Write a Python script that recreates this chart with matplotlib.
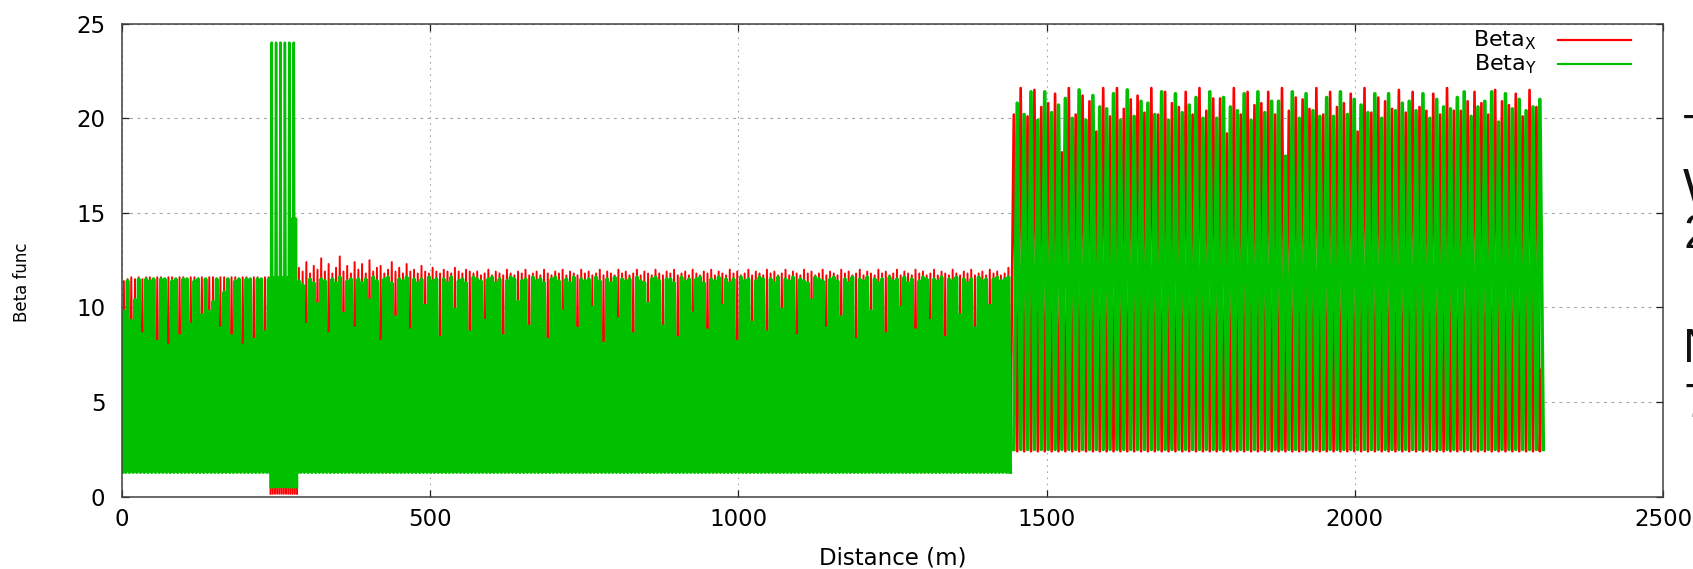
"""Beta functions along the beamline (horizontal and vertical planes)."""
import matplotlib
matplotlib.use("Agg")
import matplotlib.pyplot as plt
from matplotlib.lines import Line2D

RED = "#ff0000"
GREEN = "#00c000"

# Section boundaries along the line (m)
SEC_A = (0.0, 241.0)       # first straight, FODO
SEC_INJ = (241.0, 284.0)   # injection insert
SEC_B = (284.0, 1441.0)    # long straight, FODO
SEC_ARC = (1444.0, 2303.0)  # arc cells

# Peak beta per cell (m)
A_BY = [9.8, 11.4, 9.3, 10.4, 11.5, 8.6, 11.5, 11.4, 11.5, 8.2,
        11.5, 11.5, 8.0, 11.4, 11.5, 8.5, 11.5, 11.5, 9.1, 11.4,
        11.5, 9.6, 11.5, 9.8, 10.3, 11.5, 8.9, 10.8, 11.5, 8.5,
        11.4, 11.5, 8.0, 11.5, 11.5, 8.3, 11.5, 11.5, 8.7, 11.5]
A_BX = [11.4, 11.5, 11.6, 11.5, 11.6, 11.5, 11.6, 11.6, 11.5, 11.6,
        11.6, 11.5, 11.6, 11.6, 11.5, 11.6, 11.6, 11.5, 11.6, 11.6,
        11.5, 11.6, 11.5, 11.6, 11.6, 11.5, 11.6, 11.6, 11.5, 11.6,
        11.6, 11.5, 11.6, 11.6, 11.5, 11.6, 11.6, 11.5, 11.6, 11.6]

INJ_BY = [24.0, 11.6, 24.0, 11.6, 24.0, 11.6, 24.0, 11.6, 24.0, 14.7, 24.0, 14.7]
INJ_BX = [11.2, 11.0, 11.3, 11.1, 11.2, 11.0, 11.3, 11.1, 11.2, 11.0, 11.3, 11.1]

B_BY = [
    11.4, 11.2, 9.1, 11.5, 11.3, 10.2, 11.5, 11.4, 8.6, 11.5, 11.3, 11.6, 9.7, 11.4, 11.5, 8.9,
    11.5, 11.3, 11.5, 10.4, 11.6, 11.4, 8.2, 11.5, 11.6, 11.3, 9.5, 11.5, 11.4, 11.6, 8.8, 11.5,
    11.3, 11.5, 10.1, 11.6, 11.4, 11.5, 8.4, 11.5, 11.3, 11.6, 9.9, 11.4, 11.5, 11.3, 8.7, 11.6,
    11.5, 11.4, 9.3, 11.5, 11.6, 11.3, 11.5, 8.5, 11.4, 11.6, 11.5, 10.3, 11.4, 11.5, 9.0, 11.6,
    11.4, 11.5, 11.3, 8.3, 11.5, 11.6, 11.4, 9.8, 11.5, 11.3, 11.6, 8.9, 11.5, 11.4, 11.5, 10.0,
    11.6, 11.4, 8.1, 11.5, 11.3, 11.6, 9.4, 11.5, 11.4, 11.5, 8.6, 11.6, 11.4, 11.3, 10.2, 11.5,
    11.6, 11.4, 9.0, 11.5, 11.5, 11.3, 8.4, 11.6, 11.4, 11.5, 9.7, 11.5, 11.6, 11.3, 8.8, 11.5,
    11.4, 11.6, 10.1, 11.5, 11.3, 11.5, 8.2, 11.6, 11.4, 11.5, 9.2, 11.4, 11.6, 11.5, 8.7, 11.5,
    11.3, 11.6, 9.9, 11.5, 11.4, 11.6, 8.5, 11.5, 11.4, 11.3, 10.4, 11.6, 11.5, 11.4, 8.9, 11.5,
    11.6, 11.4, 9.5, 11.5, 11.3, 11.6, 8.3, 11.5, 11.4, 11.6, 9.8, 11.5, 11.3, 11.5, 8.6, 11.6,
    11.4, 11.5, 10.0, 11.6, 11.3, 11.5, 8.8, 11.4, 11.6, 11.5, 9.3, 11.5, 11.4, 11.6, 8.4, 11.5,
    11.4, 11.6, 9.6, 11.5, 11.3, 11.5, 8.9, 11.6, 11.4, 11.5, 10.1, 11.5, 11.6, 11.4, 11.5, 11.6,
]
B_BX = [
    12.1, 11.9, 12.4, 11.8, 12.2, 12.0, 12.6, 11.9, 12.3, 11.8, 12.1, 12.7, 11.9, 12.2, 11.8, 12.4,
    12.0, 12.3, 11.8, 12.5, 11.9, 12.1, 12.2, 11.8, 12.0, 12.4, 11.9, 12.1, 11.8, 12.3, 11.9, 12.0,
    11.8, 12.2, 11.9, 11.8, 12.1, 11.9, 11.8, 12.0, 11.9, 11.8, 12.1, 11.9, 11.8, 12.0, 11.9, 11.8,
    11.9, 11.7, 11.8, 12.0, 11.7, 11.9, 11.8, 11.7, 12.0, 11.8, 11.7, 11.9, 11.8, 12.0, 11.7, 11.8,
    11.9, 11.7, 12.0, 11.8, 11.7, 11.9, 11.8, 12.0, 11.7, 11.9, 11.8, 11.7, 12.0, 11.8, 11.9, 11.7,
    11.8, 12.0, 11.7, 11.9, 11.8, 11.7, 12.0, 11.8, 11.9, 11.7, 11.8, 12.0, 11.7, 11.9, 11.8, 11.7,
    12.0, 11.8, 11.7, 11.9, 11.8, 12.0, 11.7, 11.8, 11.9, 11.7, 12.0, 11.8, 11.7, 11.9, 11.8, 12.0,
    11.7, 11.9, 11.8, 11.7, 12.0, 11.8, 11.9, 11.7, 11.8, 12.0, 11.7, 11.9, 11.8, 11.7, 12.0, 11.8,
    11.9, 11.7, 11.8, 12.0, 11.7, 11.9, 11.8, 11.7, 12.0, 11.8, 11.9, 11.7, 11.8, 12.0, 11.7, 11.9,
    11.8, 11.7, 12.0, 11.8, 11.9, 11.7, 11.8, 12.0, 11.7, 11.9, 11.8, 11.7, 12.0, 11.8, 11.9, 11.7,
    11.8, 12.0, 11.7, 11.9, 11.8, 11.7, 12.0, 11.8, 11.9, 11.7, 11.8, 12.0, 11.7, 11.9, 11.8, 11.7,
    12.0, 11.8, 11.7, 11.9, 11.8, 12.0, 11.7, 11.8, 11.9, 11.7, 12.0, 11.8, 11.9, 11.7, 11.8, 12.1,
]

ARC_BX = [
    20.2, 21.6, 20.1, 21.5, 20.6, 20.8, 21.3, 18.2, 21.6, 20.2, 21.2, 20.9,
    19.3, 21.6, 20.1, 21.6, 20.5, 21.0, 21.2, 20.3, 21.6, 20.2, 21.4, 20.8,
    20.6, 21.4, 20.2, 21.6, 20.4, 21.05, 21.05, 19.2, 21.6, 20.2, 21.4, 20.7,
    20.8, 21.4, 20.2, 21.6, 20.4, 21.1, 21.0, 20.5, 21.6, 20.2, 21.4, 20.6,
    20.8, 21.3, 19.3, 21.6, 20.3, 21.1, 20.9, 20.5, 21.5, 20.3, 21.4, 20.6,
    20.4, 21.3, 20.2, 21.6, 20.4, 20.4, 20.9, 21.4, 20.8, 20.2, 21.5, 20.9,
    20.7, 21.3, 20.1, 21.5, 20.6,
]
ARC_BY = [
    20.8, 20.2, 21.4, 19.9, 21.4, 20.3, 20.7, 21.05, 20.0, 21.5, 19.9, 21.2,
    20.6, 20.5, 21.3, 19.9, 21.5, 20.1, 20.9, 20.8, 20.2, 21.4, 19.9, 21.3,
    20.3, 20.7, 21.1, 20.0, 21.4, 20.0, 21.1, 20.6, 20.4, 21.3, 19.9, 21.4,
    20.3, 20.9, 20.9, 18.0, 21.4, 20.0, 21.3, 20.4, 20.1, 21.1, 20.1, 21.4,
    20.2, 21.0, 20.7, 20.3, 21.3, 20.0, 21.3, 20.4, 20.8, 20.9, 20.4, 21.3,
    20.0, 21.0, 20.6, 20.5, 21.1, 21.4, 20.1, 20.6, 20.9, 21.4, 19.8, 21.3,
    20.5, 21.0, 20.4, 20.6, 21.0,
]
ARC_BX_END = 6.7  # horizontal beta at the end of the line

# Minimum beta per section (m)
LOW_MIN_X, LOW_MIN_Y = 1.3, 1.3
INJ_MIN_X, INJ_MIN_Y = 0.15, 0.5
ARC_MIN_X, ARC_MIN_Y = 2.4, 2.5

X_TICKS = [0, 500, 1000, 1500, 2000, 2500]
Y_TICKS = [0, 5, 10, 15, 20, 25]


def zigzag(sec, peaks, trough, offset=0.0):
    """Beta along a section: one minimum/maximum pair per cell."""
    s0, s1 = sec
    period = (s1 - s0) / len(peaks)
    s, b = [s0 + offset], [trough]
    for k, pk in enumerate(peaks):
        s += [s0 + offset + (k + 0.5) * period, s0 + offset + (k + 1) * period]
        b += [pk, trough]
    return s, b


fig = plt.figure(figsize=(16.93, 5.69), dpi=100)
ax = fig.add_axes([0.07206, 0.1271, 0.91022, 0.8312])

# horizontal plane first, vertical drawn over it
s, b = zigzag(SEC_A, A_BX, LOW_MIN_X)
ax.plot(s, b, color=RED, lw=1.4)
s, b = zigzag(SEC_INJ, INJ_BX, INJ_MIN_X)
ax.plot(s, b, color=RED, lw=1.4)
s, b = zigzag(SEC_B, B_BX, LOW_MIN_X)
ax.plot(s, b, color=RED, lw=1.4)
p_arc = (SEC_ARC[1] - SEC_ARC[0]) / len(ARC_BX)
s, b = zigzag(SEC_ARC, ARC_BX, ARC_MIN_X, offset=-p_arc / 4)
s.append(SEC_ARC[1])
b.append(ARC_BX_END)
ax.plot(s, b, color=RED, lw=1.9)

s, b = zigzag(SEC_A, A_BY, LOW_MIN_Y)
ax.plot(s, b, color=GREEN, lw=2.7)
s, b = zigzag(SEC_INJ, INJ_BY, INJ_MIN_Y)
ax.plot(s, b, color=GREEN, lw=1.8)
s, b = zigzag(SEC_B, B_BY, LOW_MIN_Y)
ax.plot(s, b, color=GREEN, lw=2.7)
s, b = zigzag(SEC_ARC, ARC_BY, ARC_MIN_Y, offset=p_arc / 4)
ax.plot(s, b, color=GREEN, lw=2.6)

ax.set_xlim(0, 2500)
ax.set_ylim(0, 25)
ax.set_xticks(X_TICKS)
ax.set_yticks(Y_TICKS)
ax.set_axisbelow(True)
ax.xaxis.grid(True, color="#a8a8a8", lw=0.8, linestyle=(0, (1.5, 4)))
ax.yaxis.grid(True, color="#a8a8a8", lw=0.8, linestyle=(0, (2.7, 4)))
for sp in ax.spines.values():
    sp.set_color("#404040")
    sp.set_linewidth(1.1)
ax.tick_params(direction="in", length=5, width=0.9, color="#202020",
               top=True, right=True, labelsize=16.5, pad=8)
ax.tick_params(axis="y", pad=12)

ax.set_xlabel("Distance (m)", fontsize=16.5)
ax.set_ylabel("Beta func", fontsize=12)
ax.xaxis.set_label_coords(0.5, -0.13)
ax.xaxis.label.set_va("center")
ax.yaxis.set_label_coords(-0.065, 0.454)
ax.yaxis.label.set_va("center")

# key, top right
W, H = 1693.0, 569.0
for i, (lab, col) in enumerate([(r"Beta$_{\mathrm{X}}$", RED), (r"Beta$_{\mathrm{Y}}$", GREEN)]):
    y = 1 - (40 + 24 * i) / H
    fig.text(1537 / W, y, lab, ha="right", va="center", fontsize=16)
    fig.add_artist(Line2D([1558 / W, 1631 / W], [y, y], color=col, lw=1.6))

# slide text running off the right edge
for ch, base in [("T", 148), ("W", 202), ("2", 248), ("N", 362), ("7", 417)]:
    fig.text(1683 / W, 1 - base / H, ch, ha="left", va="baseline",
             fontsize=35, family="Liberation Sans", color="#111111")

fig.savefig("out.png", dpi=100)
